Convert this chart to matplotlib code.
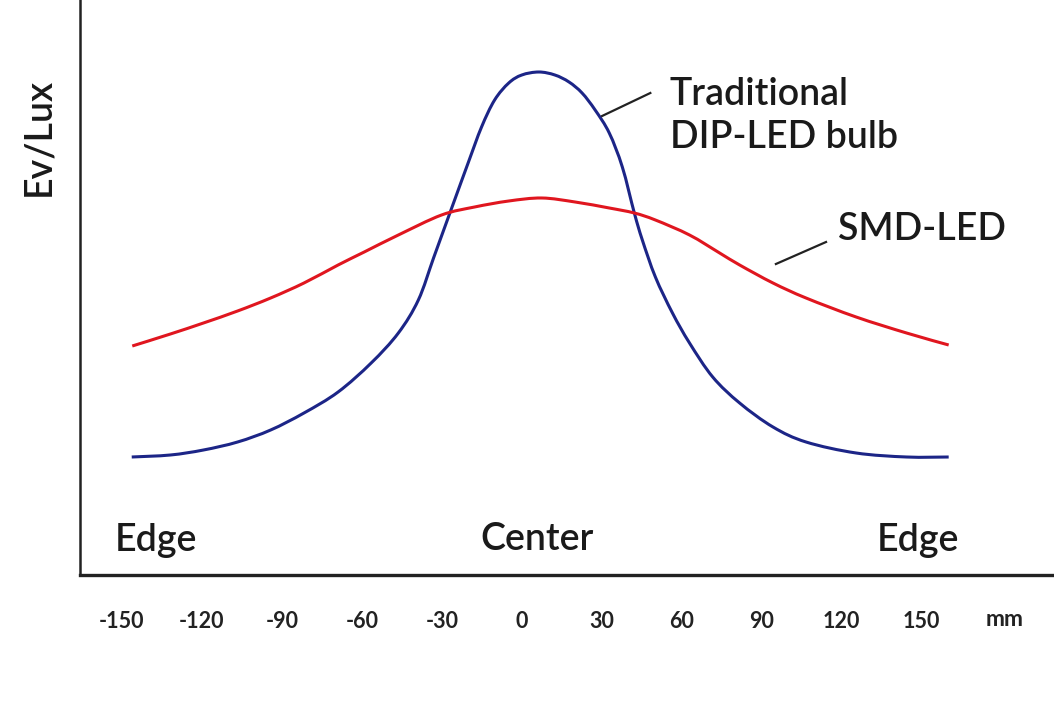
import matplotlib
matplotlib.use("Agg")
import matplotlib.pyplot as plt
from matplotlib.path import Path
from matplotlib.patches import PathPatch

# posiciones en mm y altura relativa
dip_x = [-146.3, -131.8, -119.4, -106.6, -94.2, -81.7, -68.9, -56.5, -46.3, -38.8,
         -33.1, -28.2, -25.2, -20.0, -15.1, -10.2, -4.9, 0.0, 6.4, 12.4,
         17.7, 22.6, 27.5, 32.8, 37.7, 42.2, 45.2, 50.1, 56.5, 62.9,
         71.6, 81.7, 94.2, 106.6, 125.4, 144.3, 160.1]
dip_y = [118, 120, 125, 133, 145, 162, 183, 212, 242, 275,
         317, 353, 375, 413, 448, 475, 492, 500, 503, 500,
         493, 482, 465, 442, 408, 362, 335, 298, 262, 232,
         198, 172, 148, 133, 122, 118, 118]

smd_x = [-146.1, -131.8, -119.4, -106.6, -94.2, -81.7, -68.9, -59.1, -46.3, -30.1,
         -17.7, -4.9, 7.5, 20.0, 32.8, 42.2, 50.1, 62.9, 74.2, 81.7,
         94.2, 106.6, 125.4, 144.3, 160.1]
smd_y = [229, 241, 252, 264, 277, 292, 310, 323, 340, 360,
         368, 374, 377, 373, 367, 362, 355, 340, 322, 310,
         292, 277, 258, 242, 230]

ticks_mm = [-150, -120, -90, -60, -30, 0, 30, 60, 90, 120, 150]


def curva_suave(ax, xs, ys, color):
    # traza la curva pasando por los puntos con tramos bezier (catmull-rom)
    pts = list(zip(xs, ys))
    verts = [pts[0]]
    codes = [Path.MOVETO]
    n = len(pts)
    for i in range(n - 1):
        p0 = pts[i - 1] if i > 0 else pts[i]
        p1 = pts[i]
        p2 = pts[i + 1]
        p3 = pts[i + 2] if i + 2 < n else pts[i + 1]
        c1 = (p1[0] + (p2[0] - p0[0]) / 6, p1[1] + (p2[1] - p0[1]) / 6)
        c2 = (p2[0] - (p3[0] - p1[0]) / 6, p2[1] - (p3[1] - p1[1]) / 6)
        verts += [c1, c2, p2]
        codes += [Path.CURVE4] * 3
    ax.add_patch(PathPatch(Path(verts, codes), fill=False, edgecolor=color,
                           linewidth=2.2, capstyle='butt'))


plt.rcParams['font.family'] = ['Lato', 'DejaVu Sans']

fig = plt.figure(figsize=(10.54, 7.12), dpi=100)
ax = fig.add_axes([80 / 1054, (712 - 575) / 712, 1 - 80 / 1054, 575 / 712])

azul = '#1c2587'
rojo = '#e0161f'
curva_suave(ax, dip_x, dip_y, azul)
curva_suave(ax, smd_x, smd_y, rojo)

ax.set_xlim(-165.7, 199.6)
ax.set_ylim(0, 575)

# ejes
for lado in ['top', 'right']:
    ax.spines[lado].set_visible(False)
ax.spines['left'].set_linewidth(1.8)
ax.spines['bottom'].set_linewidth(2.4)
ax.spines['left'].set_color('#222222')
ax.spines['bottom'].set_color('#222222')

ax.set_xticks(ticks_mm)
ax.set_xticklabels([str(t) for t in ticks_mm], fontweight='bold')
ax.set_yticks([])
ax.tick_params(axis='x', length=0, pad=26, labelsize=15.5, labelcolor='#222222')
ax.text(181, -45, 'mm', ha='center', va='center', fontsize=16.5,
        fontweight='bold', color='#222222')

# textos
txt = dict(color='#1a1a1a', fontsize=27, fontweight='semibold')
ax.text(55.4, 459, 'Traditional\nDIP-LED bulb', ha='left', va='center', linespacing=1.3, **txt)
ax.plot([30.1, 48.2], [459, 482], color='#222222', linewidth=1.6)
ax.text(118.6, 345, 'SMD-LED', ha='left', va='center', **txt)
ax.plot([95.3, 114.1], [311, 333], color='#222222', linewidth=1.6)

ax.text(-152.5, 35, 'Edge', ha='left', va='center', **txt)
ax.text(5.6, 35, 'Center', ha='center', va='center', **txt)
ax.text(133, 35, 'Edge', ha='left', va='center', **txt)

fig.text(39 / 1054, 1 - 137 / 712, 'Ev/Lux', rotation=90, ha='center', va='center', **txt)

fig.savefig('out.png', dpi=100)
